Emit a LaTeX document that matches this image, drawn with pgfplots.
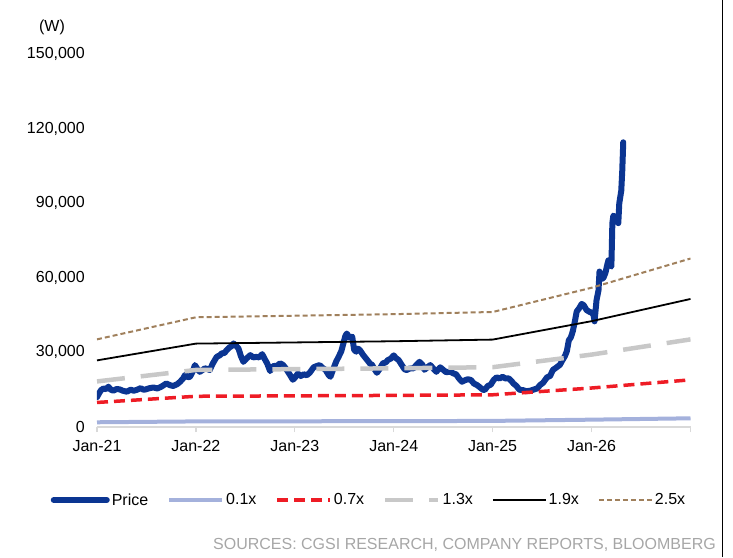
\documentclass[border=0pt]{standalone}
\usepackage{pgfplots}
\pgfplotsset{compat=1.18}
\usepackage{fontspec}
\setmainfont{Liberation Sans}
\definecolor{priceblue}{HTML}{0B3592}
\definecolor{pbl}{HTML}{A4B1DC}
\definecolor{pred}{HTML}{EE1C25}
\definecolor{pgray}{HTML}{C8C8C8}
\definecolor{pbrown}{HTML}{A0805C}
\definecolor{axgray}{HTML}{D9D9D9}
\definecolor{srcgray}{HTML}{A6A6A6}
\begin{document}
\begin{tikzpicture}
\useasboundingbox (-97pt,-130pt) rectangle (636pt,427pt);
\begin{axis}[
  at={(0pt,0pt)}, anchor=origin,
  scale only axis, width=593.5pt, height=373pt,
  xmin=0, xmax=6, ymin=0, ymax=150000,
  scaled y ticks=false,
  axis lines*=left,
  x axis line style={draw=axgray, line width=1.3pt},
  y axis line style={draw=none},
  xtick={0,1,2,3,4,5,6},
  xticklabels={Jan-21,Jan-22,Jan-23,Jan-24,Jan-25,Jan-26,{}},
  ytick={0,30000,60000,90000,120000,150000},
  yticklabels={0,{30,000},{60,000},{90,000},{120,000},{150,000}},
  tick align=outside,
  major tick length=5pt,
  x tick style={draw=axgray, line width=1.3pt},
  y tick style={draw=none},
  ticklabel style={font=\fontsize{16}{19}\selectfont, inner sep=0pt},
  xticklabel style={anchor=north, yshift=-8pt},
  yticklabel style={anchor=east, xshift=-7pt},
  legend style={at={(0.4583,-0.1957)}, anchor=center, draw=none, fill=none,
    font=\fontsize{16}{19}\selectfont, legend columns=6,
    /tikz/every even column/.append style={column sep=17pt},
    nodes={inner sep=2pt}},
  legend cell align=left,
  legend image code/.code={\draw[#1] (0pt,0pt) -- (53pt,0pt);},
]
% Price
\addplot[priceblue, line width=6pt, line join=round, line cap=round] coordinates {
(0.00,12000) (0.02,13500) (0.04,14800) (0.065,15500) (0.09,15200) (0.115,16200)
(0.14,15000) (0.165,14600) (0.20,15300) (0.23,15100) (0.26,14600) (0.30,14200)
(0.34,15000) (0.37,14600) (0.40,14900) (0.44,15600) (0.47,15000) (0.49,15100)
(0.53,15600) (0.57,15900) (0.61,15500) (0.65,16200) (0.70,17500) (0.74,16800)
(0.77,16500) (0.81,17200) (0.84,18200) (0.87,19500) (0.89,20900) (0.92,20000)
(0.94,20200) (0.97,22500) (0.99,24900) (1.02,23000) (1.04,22200) (1.07,23000)
(1.09,23600) (1.12,23300) (1.14,22900) (1.17,25500) (1.21,28200) (1.24,28800)
(1.26,29600) (1.29,29800) (1.31,30900) (1.34,32000) (1.36,32500) (1.38,33600)
(1.41,32500) (1.43,31600) (1.455,28500) (1.48,26200) (1.51,27500) (1.55,28900)
(1.58,28000) (1.61,28200) (1.64,28000) (1.67,29300) (1.70,27000) (1.72,25600)
(1.75,22500) (1.78,24500) (1.82,24600) (1.85,25600) (1.88,25000) (1.91,23500)
(1.95,21000) (1.98,19000) (2.00,19800) (2.03,21500) (2.06,20500) (2.09,21200)
(2.12,20800) (2.15,21800) (2.19,24000) (2.22,24500) (2.25,24900) (2.28,23800)
(2.31,23000) (2.34,21000) (2.36,20200) (2.39,23500) (2.42,26500) (2.44,28000)
(2.47,30500) (2.49,33500) (2.51,36500) (2.525,37600) (2.55,36000) (2.58,36300)
(2.60,31000) (2.62,30300) (2.64,31500) (2.66,30800) (2.69,29000) (2.71,28000)
(2.74,26500) (2.76,25500) (2.78,25000) (2.81,23000) (2.83,21800) (2.86,23500)
(2.89,25600) (2.92,26000) (2.94,26900) (2.97,27500) (3.00,28800) (3.02,27800)
(3.05,26900) (3.08,25000) (3.11,23200) (3.13,22900) (3.16,23500) (3.20,23600)
(3.23,25000) (3.26,26200) (3.29,25000) (3.31,23000) (3.34,24000) (3.37,24900)
(3.40,23500) (3.43,22200) (3.47,24000) (3.50,23000) (3.53,22000) (3.57,22300)
(3.60,21600) (3.63,21200) (3.66,19500) (3.69,18200) (3.72,18800) (3.75,19200)
(3.78,18900) (3.81,17500) (3.84,16900) (3.87,16000) (3.90,15000) (3.92,14900)
(3.95,16500) (3.98,17000) (4.01,18900) (4.04,20000) (4.07,19500) (4.10,20200)
(4.13,19500) (4.16,19600) (4.19,18500) (4.21,17500) (4.24,16500) (4.27,15000)
(4.31,14800) (4.34,14400) (4.38,14600) (4.41,15000) (4.45,15500) (4.48,16900)
(4.51,17800) (4.55,20000) (4.58,20500) (4.61,23000) (4.64,23800) (4.68,25000)
(4.70,26500) (4.73,28500) (4.75,30500) (4.77,34900) (4.79,36000) (4.81,38500)
(4.83,42300) (4.85,46500) (4.87,47500) (4.90,49500) (4.92,49000) (4.95,47000)
(4.98,46300) (5.00,46000) (5.02,45000) (5.03,42500) (5.05,51000) (5.07,55000)
(5.08,62500) (5.10,59500) (5.12,60000) (5.14,62000) (5.16,65500) (5.17,67000)
(5.19,65000) (5.20,64500) (5.21,82000) (5.22,85000) (5.25,84000) (5.27,82000)
(5.28,90000) (5.30,95000) (5.31,103000) (5.32,114500)
};
% Valuation bands (P/B multiples)
\addplot[pbl, line width=4pt] coordinates {(0,1900) (1,2250) (2,2300) (3,2350) (4,2450) (5,2950) (6,3500)};
\addplot[pred, line width=3.5pt, dash pattern=on 11pt off 6pt] coordinates {(0,9870) (1,12355) (2,12530) (3,12705) (4,12950) (5,15680) (6,18970)};
\addplot[pgray, line width=4.5pt, dash pattern=on 28pt off 16pt] coordinates {(0,18330) (1,22945) (2,23270) (3,23595) (4,24050) (5,29120) (6,35230)};
\addplot[black, line width=1.8pt] coordinates {(0,26790) (1,33535) (2,34010) (3,34485) (4,35150) (5,42560) (6,51490)};
\addplot[pbrown, line width=2pt, dash pattern=on 5pt off 3pt] coordinates {(0,35250) (1,44125) (2,44750) (3,45375) (4,46250) (5,56000) (6,67750)};
\legend{Price,0.1x,0.7x,1.3x,1.9x,2.5x}
\end{axis}
\node[font=\fontsize{16}{19}\selectfont, inner sep=0pt] at (-45pt,400pt) {(W)};
\node[font=\fontsize{16}{19}\selectfont, text=srcgray, anchor=east, inner sep=0pt] at (619pt,-118pt) {SOURCES: CGSI RESEARCH, COMPANY REPORTS, BLOOMBERG};
\draw[black, line width=1.3pt] (625.3pt,-130pt) -- (625.3pt,427pt);
\end{tikzpicture}
\end{document}
